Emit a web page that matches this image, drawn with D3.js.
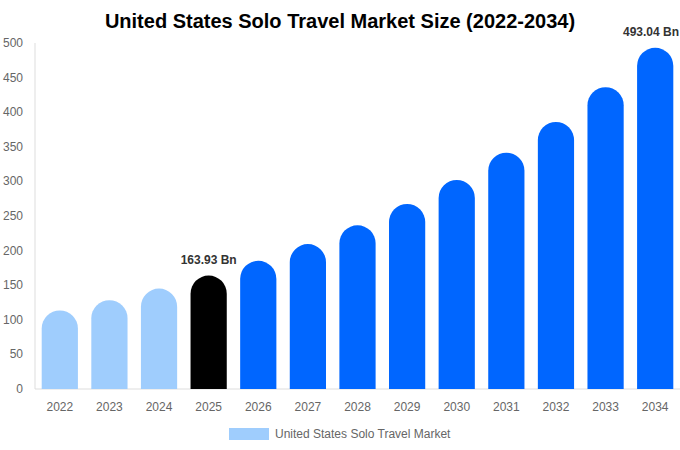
<!DOCTYPE html>
<html><head><meta charset="utf-8">
<script src="https://cdn.jsdelivr.net/npm/d3@7"></script>
<style>body{margin:0;background:#fff;font-family:"Liberation Sans",Arial,sans-serif;}</style>
</head><body><svg id="c" width="680" height="450"></svg>
<script>
const years = ["2022","2023","2024","2025","2026","2027","2028","2029","2030","2031","2032","2033","2034"];
const values = [113.6,128.4,145.1,163.93,185.3,209.4,236.6,267.4,302.2,341.5,385.9,436.2,493.04];
const barColors = ["#9fcdfd","#9fcdfd","#9fcdfd","#000000","#0066ff","#0066ff","#0066ff","#0066ff","#0066ff","#0066ff","#0066ff","#0066ff","#0066ff"];
const yTicks = [0,50,100,150,200,250,300,350,400,450,500];
const labels = {"2025":"163.93 Bn","2034":"493.04 Bn"};
const title = "United States Solo Travel Market Size (2022-2034)";
const legendLabel = "United States Solo Travel Market";

const svg = d3.select("#c");
const m = {l:35, r:0, t:43, b:61};
const W = 680, H = 450;
const x = d3.scaleBand().domain(years).range([m.l, W-m.r]).paddingInner(0.27).paddingOuter(0.135);
const y = d3.scaleLinear().domain([0,500]).range([H-m.b, m.t]);

svg.append("text").attr("x",340).attr("y",28).attr("text-anchor","middle")
  .attr("font-size",20).attr("font-weight","bold").attr("fill","#000").text(title);

svg.append("line").attr("x1",m.l).attr("x2",m.l).attr("y1",y(500)).attr("y2",y(0)).attr("stroke","#ddd");
svg.append("line").attr("x1",m.l).attr("x2",W).attr("y1",y(0)).attr("y2",y(0)).attr("stroke","#ddd");

svg.selectAll(".yt").data(yTicks).enter().append("text")
  .attr("x",23).attr("y",d=>y(d)+4).attr("text-anchor","end")
  .attr("font-size",12).attr("fill","#666").text(d=>d);

svg.selectAll(".xt").data(years).enter().append("text")
  .attr("x",d=>x(d)+x.bandwidth()/2).attr("y",y(0)+22).attr("text-anchor","middle")
  .attr("font-size",12).attr("fill","#666").text(d=>d);

function barPath(x0,w,yTop,yBot){
  const r = w/2;
  return `M${x0},${yBot} L${x0},${yTop+r} A${r},${r} 0 0 1 ${x0+w},${yTop+r} L${x0+w},${yBot} Z`;
}
svg.selectAll(".bar").data(years).enter().append("path")
  .attr("d",(d,i)=>barPath(x(d),x.bandwidth(),y(values[i]),y(0)))
  .attr("fill",(d,i)=>barColors[i]);

years.forEach((d,i)=>{
  if(labels[d]){
    const cx = x(d)+x.bandwidth()/2;
    const t = svg.append("text").attr("y",y(values[i])-12)
      .attr("font-size",12).attr("font-weight","bold")
      .attr("fill","#333").text(labels[d]);
    const w = t.node().getComputedTextLength();
    const left = Math.min(cx - w/2, W - 1 - w);
    t.attr("x",left);
  }
});

svg.append("rect").attr("x",229).attr("y",428).attr("width",40).attr("height",12).attr("fill","#9fcdfd");
svg.append("text").attr("x",275).attr("y",438).attr("font-size",12).attr("fill","#666").text(legendLabel);
</script></body></html>
